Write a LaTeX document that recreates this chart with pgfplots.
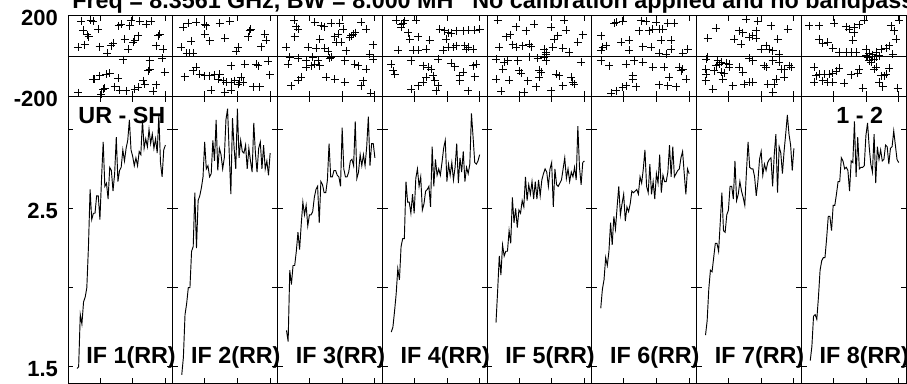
\documentclass[border=0pt]{standalone}
\usepackage{fontspec}
\setmainfont{Liberation Sans}
\usepackage{pgfplots}
\usepackage{pgfplotstable}
\pgfplotsset{compat=1.18}
\newcommand{\lbl}{\fontsize{17.5}{20}\selectfont\bfseries}
\newcommand{\tkl}{\fontsize{16.5}{18}\selectfont\bfseries}
\pgfplotsset{
  panel/.style={scale only axis, width=78.5625pt, xmin=0.5, xmax=64.5,
    xtick={20,40,60}, xticklabels={}, tick align=inside, major tick length=4pt,
    tick style={black, line width=0.6pt}, axis line style={black, line width=0.6pt},
    anchor=south west, yticklabels={},
    /pgf/number format/assume math mode=true,
    yticklabel style={font=\tkl, xshift=-4pt, yshift=-2pt}},
  phase/.style={panel, height=60.75pt, ymin=-200, ymax=200, ytick={-200,200},
    extra y ticks={0}, extra y tick labels={}, extra y tick style={grid=major, major tick length=0pt},
    major grid style={black, line width=0.6pt}},
  amp/.style={panel, height=215.25pt, ymin=1.395, ymax=3.207, ytick={1.5,2,2.5,3}, clip=false},
  ph/.style={only marks, mark=+, mark size=3pt, mark options={line width=0.55pt, black}},
  am/.style={no marks, black, line width=0.7pt},
}
\pgfplotstableread{
ch a1 a2 a3 a4 a5 a6 a7 a8
6 1.49 1.45 1.73 1.72 1.78 1.87 1.70 1.54
7 1.50 1.56 1.66 1.75 1.98 1.99 1.79 1.63
8 1.83 1.83 2.11 1.85 2.20 2.05 1.99 1.82
9 1.77 1.90 2.02 1.96 2.08 2.19 2.11 1.83
10 1.91 2.00 2.14 2.12 2.27 2.14 2.10 1.80
11 1.94 2.00 2.14 2.05 2.20 2.23 2.19 1.94
12 2.00 2.23 2.23 2.26 2.23 2.41 2.28 2.11
13 2.26 2.26 2.35 2.31 2.23 2.27 2.28 2.17
14 2.62 2.60 2.24 2.31 2.36 2.45 2.23 2.19
15 2.43 2.25 2.40 2.67 2.28 2.37 2.41 2.19
16 2.47 2.55 2.54 2.54 2.57 2.51 2.60 2.31
17 2.47 2.58 2.46 2.54 2.41 2.64 2.36 2.45
18 2.58 2.63 2.52 2.47 2.50 2.46 2.35 2.45
19 2.58 2.70 2.39 2.59 2.38 2.53 2.46 2.36
20 2.43 2.92 2.46 2.47 2.49 2.59 2.49 2.52
21 2.69 2.75 2.46 2.69 2.47 2.42 2.64 2.52
22 2.92 2.77 2.48 2.75 2.55 2.51 2.64 2.59
23 2.64 2.70 2.57 2.64 2.51 2.48 2.56 2.67
24 2.66 2.72 2.62 2.70 2.70 2.53 2.80 2.67
25 2.56 2.93 2.64 2.49 2.55 2.61 2.55 2.82
26 2.76 2.80 2.41 2.53 2.65 2.60 2.59 2.80
27 2.74 3.06 2.67 2.61 2.59 2.61 2.67 2.75
28 2.61 2.74 2.65 2.62 2.67 2.62 2.61 2.76
29 2.72 2.88 2.60 2.64 2.56 2.59 2.57 2.74
30 2.95 2.84 2.60 2.51 2.67 2.70 2.52 2.61
31 2.67 2.75 2.68 2.89 2.56 2.66 2.73 2.80
32 2.74 2.82 2.91 2.64 2.68 2.75 2.92 2.79
33 2.76 3.06 2.70 2.81 2.58 2.87 2.76 3.05
34 2.87 3.13 2.70 2.71 2.68 2.64 2.75 2.70
35 2.80 2.85 2.74 2.75 2.72 2.60 2.75 2.95
36 2.88 2.59 2.74 2.71 2.75 2.78 2.70 2.75
37 2.93 3.07 2.71 2.79 2.73 2.59 2.58 2.76
38 3.06 2.88 2.70 2.88 2.64 2.67 2.67 2.76
39 2.87 2.75 2.64 2.93 2.75 2.56 2.81 2.77
40 2.83 3.13 3.01 2.67 2.79 2.72 2.86 2.96
41 2.77 2.82 2.75 2.78 2.51 2.66 2.71 3.04
42 2.82 2.93 2.70 2.71 2.75 2.84 2.78 2.89
43 2.77 2.86 2.70 2.79 2.65 2.60 2.74 2.78
44 2.86 2.85 2.73 2.68 2.64 2.71 2.79 2.73
45 2.84 2.90 2.80 2.76 2.66 2.67 2.81 2.97
46 3.06 2.75 2.81 2.91 2.68 2.67 2.82 2.66
47 2.88 2.88 2.77 2.66 2.75 2.73 2.64 2.89
48 2.94 2.80 3.05 2.82 2.82 2.90 2.84 2.81
49 2.89 2.73 2.69 2.73 2.69 2.70 2.97 2.87
50 3.00 3.04 2.73 2.86 2.75 2.89 2.60 2.80
51 2.91 2.85 2.84 2.67 2.67 2.70 2.89 2.81
52 2.97 2.73 2.77 2.76 2.73 2.72 2.85 2.90
53 2.88 2.88 2.84 2.72 2.70 2.74 2.72 2.89
54 2.94 2.92 2.77 2.78 2.76 2.75 2.86 2.78
55 2.85 2.75 2.89 3.10 2.68 2.82 2.97 2.88
56 3.09 2.90 3.08 2.95 3.02 2.86 3.09 2.89
57 2.79 2.75 2.77 2.79 2.76 2.72 2.97 2.99
58 2.70 2.80 2.91 2.78 2.65 2.59 2.90 2.90
59 2.87 2.71 2.91 2.80 2.79 2.75 2.74 2.81
60 2.90 2.85 2.82 2.84 2.80 2.72 2.88 2.79
}\amptab
\begin{document}
\begin{tikzpicture}
% ---------- phase panels ----------
\begin{axis}[phase, at={(51pt,214.875pt)}, yticklabels={\textbf{-200},\textbf{200}}]
\addplot[ph] coordinates {(8.6,171)(14.3,177)(15.8,171)(9.7,128)(12.3,105)(13.1,95)(18.8,133)(6.6,42)(10.7,56)(19.8,46)(24.5,13)(28.0,62)(27.0,51)(31.5,149)(33.1,158)(38.2,149)(39.2,174)(44.3,171)(48.4,158)(51.4,171)(35.1,84)(37.2,34)(41.2,79)(40.2,67)(43.3,100)(56.5,108)(55.5,100)(54.5,51)(58.5,34)(34.1,-18)(50.4,-23)(57.9,-12)(49.4,-73)(50.4,-65)(59.6,-81)(25.9,-86)(31.1,-109)(23.9,-89)(19.8,-98)(15.8,-114)(16.8,-114)(46.3,-122)(47.3,-139)(54.5,-142)(21.9,-163)(22.9,-158)(29.0,-152)(32.1,-168)(36.1,-172)(41.2,-163)(43.3,-155)(52.4,-175)(6.6,-181)(20.9,-188)};
\end{axis}
\begin{axis}[phase, at={(129.5625pt,214.875pt)}]
\addplot[ph] coordinates {(6.8,141)(9.9,161)(15.0,166)(20.1,158)(20.1,108)(21.1,149)(29.2,161)(35.3,171)(48.2,133)(47.5,125)(56.7,108)(57.7,79)(11.9,72)(23.1,75)(32.3,88)(46.5,95)(5.8,42)(8.9,13)(10.9,13)(12.9,13)(40.4,42)(39.4,23)(54.7,46)(36.3,-48)(44.5,-40)(51.6,-40)(52.6,-48)(58.7,-27)(59.8,-93)(7.8,-102)(12.9,-73)(15.0,-56)(17.0,-89)(20.1,-98)(23.1,-98)(26.2,-93)(28.2,-114)(29.2,-89)(31.3,-122)(33.3,-130)(36.3,-130)(38.4,-122)(40.4,-139)(41.4,-130)(42.5,-106)(43.5,-130)(24.1,-168)(32.3,-180)(36.3,-168)(49.6,-152)(53.7,-152)};
\end{axis}
\begin{axis}[phase, at={(208.125pt,214.875pt)}]
\addplot[ph] coordinates {(10.6,177)(12.0,144)(13.0,133)(23.2,166)(27.3,149)(28.9,144)(33.4,161)(38.5,161)(40.5,133)(46.6,108)(51.7,166)(54.8,133)(45.6,100)(48.0,116)(44.6,92)(35.4,95)(37.5,108)(26.3,84)(11.0,95)(19.1,42)(24.2,39)(29.3,39)(31.4,23)(36.4,67)(39.5,67)(42.5,26)(56.8,9)(58.8,56)(5.9,42)(7.9,-7)(6.9,-40)(13.0,-10)(18.1,-20)(22.1,-7)(25.2,-23)(32.4,-10)(33.4,-7)(41.5,-23)(47.6,-40)(49.7,-48)(54.8,-65)(58.8,-15)(18.1,-56)(21.0,-48)(26.3,-48)(23.2,-40)(15.1,-106)(13.0,-119)(9.0,-147)(30.3,-106)(35.4,-114)(41.5,-130)(51.7,-147)(52.7,-122)(57.4,-185)};
\end{axis}
\begin{axis}[phase, at={(286.6875pt,214.875pt)}]
\addplot[ph] coordinates {(9.1,177)(12.2,158)(13.2,161)(14.2,174)(21.3,177)(12.2,141)(16.2,116)(17.3,84)(22.3,95)(29.5,79)(35.6,133)(38.6,125)(40.6,116)(42.7,112)(45.8,125)(49.8,125)(52.9,128)(57.0,128)(60.0,133)(39.7,84)(40.6,42)(43.7,42)(45.8,51)(50.9,51)(51.9,34)(52.9,42)(56.0,34)(10.1,29)(19.3,29)(22.3,29)(27.4,34)(37.6,29)(6.0,-40)(7.1,-73)(8.1,-89)(18.3,-23)(25.4,-48)(28.5,-56)(30.5,-65)(34.6,-15)(42.7,-37)(44.7,-53)(56.0,-48)(58.0,-40)(31.5,-98)(32.5,-122)(27.4,-106)(25.4,-130)(22.3,-147)(18.3,-163)(34.6,-147)(33.6,-172)(47.8,-98)(49.8,-81)(47.8,-122)(57.0,-102)(52.9,-172)};
\end{axis}
\begin{axis}[phase, at={(365.25pt,214.875pt)}]
\addplot[ph] coordinates {(7.0,177)(18.2,144)(24.3,125)(29.4,158)(39.6,141)(47.8,177)(48.8,128)(12.1,95)(14.6,105)(43.7,100)(41.6,84)(58.9,105)(55.9,67)(8.0,42)(16.2,56)(18.2,42)(22.3,51)(26.4,59)(27.4,46)(35.5,34)(36.5,18)(40.6,42)(46.7,39)(50.8,18)(6.0,-15)(11.1,-32)(13.1,-23)(19.2,-23)(26.4,-4)(31.5,-10)(35.5,-7)(36.5,9)(36.5,-23)(57.9,-32)(10.1,-65)(20.3,-73)(21.3,-86)(32.5,-70)(33.5,-81)(6.0,-114)(14.1,-119)(25.3,-122)(32.5,-106)(42.7,-89)(44.7,-98)(51.8,-106)(52.8,-130)(53.9,-139)(9.1,-175)(23.3,-180)(30.4,-152)(39.6,-172)(46.7,-147)};
\end{axis}
\begin{axis}[phase, at={(443.8125pt,214.875pt)}]
\addplot[ph] coordinates {(14.3,161)(15.3,166)(19.4,171)(30.6,174)(33.6,171)(35.7,125)(39.8,166)(41.8,133)(46.9,161)(51.0,161)(29.6,125)(37.7,133)(43.8,133)(6.2,100)(42.8,79)(48.9,79)(18.4,67)(23.5,79)(7.2,42)(9.2,51)(6.2,29)(23.5,29)(31.6,46)(36.7,42)(41.8,13)(45.9,9)(48.9,34)(59.1,34)(56.1,13)(6.2,-23)(11.3,-48)(21.4,-40)(26.5,-23)(31.6,-32)(37.7,-56)(44.8,-56)(54.0,-56)(56.1,-65)(55.0,-73)(25.5,-98)(25.5,-114)(47.9,-106)(58.1,-114)(21.4,-147)(19.4,-155)(15.3,-172)(12.3,-185)(27.5,-152)(41.8,-142)(46.9,-147)(52.0,-152)};
\end{axis}
\begin{axis}[phase, at={(522.375pt,214.875pt)}]
\addplot[ph] coordinates {(7.3,88)(12.4,138)(23.6,84)(26.7,125)(27.7,59)(28.7,116)(30.7,182)(36.9,125)(34.8,100)(37.9,171)(46.0,149)(32.8,92)(36.9,88)(39.9,34)(43.0,51)(45.0,34)(47.0,26)(50.1,84)(56.2,133)(51.1,9)(6.3,-15)(7.3,-4)(13.4,-23)(14.5,-40)(15.5,-32)(18.5,-37)(20.6,-40)(12.4,-48)(11.4,-73)(15.5,-81)(17.5,-86)(20.6,-56)(26.7,-56)(28.7,-81)(32.8,-10)(34.8,-23)(42.0,-48)(43.0,-56)(47.0,-23)(51.1,-32)(52.1,-65)(54.2,-65)(57.2,-48)(58.2,-56)(6.0,-65)(6.3,-89)(16.5,-114)(6.0,-122)(10.4,-163)(22.6,-147)(29.7,-139)(32.8,-130)(34.8,-130)(44.0,-139)(48.0,-139)(49.1,-114)(54.2,-106)(47.0,-180)};
\end{axis}
\begin{axis}[phase, at={(600.9375pt,214.875pt)}]
\addplot[ph] coordinates {(5.4,149)(11.5,149)(20.7,161)(27.8,144)(29.9,133)(32.9,141)(36.0,154)(39.0,177)(55.3,149)(60.4,177)(57.4,125)(58.4,84)(32.9,116)(31.9,79)(11.5,84)(13.6,62)(16.6,67)(19.7,39)(23.8,18)(27.8,18)(30.9,18)(33.9,18)(40.1,34)(42.1,13)(44.1,6)(46.2,18)(49.2,34)(52.3,39)(54.3,51)(56.4,9)(40.1,1)(41.1,-7)(42.1,-23)(43.1,-32)(45.2,-15)(46.2,-4)(48.2,1)(8.5,-56)(9.5,-98)(11.5,-89)(14.6,-89)(17.6,-89)(19.7,-86)(21.7,-76)(23.8,-60)(30.9,-93)(35.0,-86)(36.0,-65)(45.2,-65)(46.2,-56)(49.2,-98)(51.3,-98)(52.3,-89)(54.3,-60)(8.5,-130)(13.6,-122)(16.6,-130)(19.7,-130)(26.8,-135)(38.0,-158)(48.2,-130)(50.3,-152)(59.4,-158)};
\end{axis}
% ---------- amplitude panels ----------
\begin{axis}[amp, at={(51pt,-0.375pt)}, yticklabels={1.5,{},2.5,{}}]
\addplot[am] table[x=ch, y=a1] {\amptab};
\node[anchor=base west, font=\lbl] at (rel axis cs:0.055,0.905) {UR - SH};
\node[anchor=base west, font=\lbl] at (rel axis cs:0.13,0.0714) {IF 1(RR)};
\end{axis}
\begin{axis}[amp, at={(129.5625pt,-0.375pt)}]
\addplot[am] table[x=ch, y=a2] {\amptab};
\node[anchor=base west, font=\lbl] at (rel axis cs:0.13,0.0714) {IF 2(RR)};
\end{axis}
\begin{axis}[amp, at={(208.125pt,-0.375pt)}]
\addplot[am] table[x=ch, y=a3] {\amptab};
\node[anchor=base west, font=\lbl] at (rel axis cs:0.13,0.0714) {IF 3(RR)};
\end{axis}
\begin{axis}[amp, at={(286.6875pt,-0.375pt)}]
\addplot[am] table[x=ch, y=a4] {\amptab};
\node[anchor=base west, font=\lbl] at (rel axis cs:0.13,0.0714) {IF 4(RR)};
\end{axis}
\begin{axis}[amp, at={(365.25pt,-0.375pt)}]
\addplot[am] table[x=ch, y=a5] {\amptab};
\node[anchor=base west, font=\lbl] at (rel axis cs:0.13,0.0714) {IF 5(RR)};
\end{axis}
\begin{axis}[amp, at={(443.8125pt,-0.375pt)}]
\addplot[am] table[x=ch, y=a6] {\amptab};
\node[anchor=base west, font=\lbl] at (rel axis cs:0.13,0.0714) {IF 6(RR)};
\end{axis}
\begin{axis}[amp, at={(522.375pt,-0.375pt)}]
\addplot[am] table[x=ch, y=a7] {\amptab};
\node[anchor=base west, font=\lbl] at (rel axis cs:0.13,0.0714) {IF 7(RR)};
\end{axis}
\begin{axis}[amp, at={(600.9375pt,-0.375pt)}]
\addplot[am] table[x=ch, y=a8] {\amptab};
\node[anchor=base west, font=\lbl] at (rel axis cs:0.29,0.905) {1 - 2};
\node[anchor=base west, font=\lbl] at (rel axis cs:0.13,0.0714) {IF 8(RR)};
\end{axis}
% ---------- title ----------
\node[anchor=base west, inner sep=0pt, font=\fontsize{17.5}{20}\selectfont\bfseries] at (54pt,280.5pt) {Freq = 8.3561 GHz, BW = 8.000 MH};
\node[anchor=base west, inner sep=0pt, font=\fontsize{17.5}{20}\selectfont\bfseries] at (354pt,280.5pt) {No calibration applied and no bandpass};
\pgfresetboundingbox
\useasboundingbox (0pt,0pt) rectangle (680.25pt,287.25pt);
\end{tikzpicture}
\end{document}
